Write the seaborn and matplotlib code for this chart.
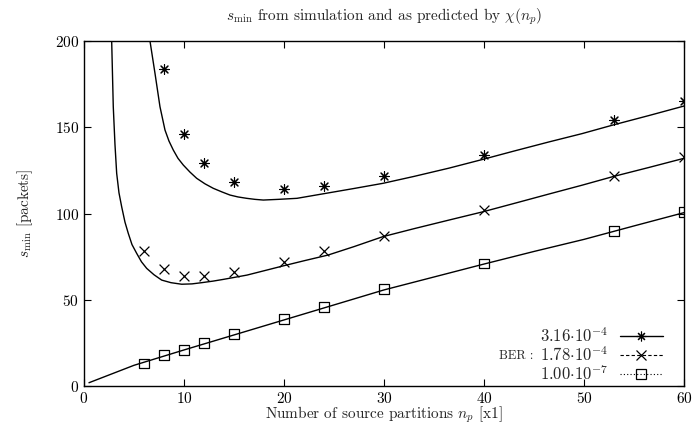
import matplotlib
matplotlib.use("Agg")
import matplotlib.pyplot as plt
from matplotlib.lines import Line2D
import seaborn as sns

# simulated s_min points
x_hi = [8, 10, 12, 15, 20, 24, 30, 40, 53, 60]
y_hi = [184, 146, 129, 118, 114, 116, 122, 134, 154, 165]
x_mid = [6, 8, 10, 12, 15, 20, 24, 30, 40, 53, 60]
y_mid = [78, 68, 64, 64, 66, 72, 78, 87, 102, 122, 133]
x_lo = [6, 8, 10, 12, 15, 20, 24, 30, 40, 53, 60]
y_lo = [13, 18, 21, 25, 30, 39, 46, 56, 71, 90, 101]

# predicted curves chi(n_p)
cx_hi = [6.6, 7.1, 7.6, 8.1, 8.5, 8.93, 9.4, 9.93, 10.6, 11.27, 12.1, 12.93, 13.8, 14.6,
         15.4, 16.27, 17.1, 17.93, 19.43, 21.3, 24.4, 27.0, 29.9, 33.0, 36.5, 39.9,
         43.0, 46.5, 49.8, 52.9, 56.5, 60.0]
cy_hi = [200, 181.3, 161.9, 148.4, 142.0, 136.8, 132.0, 128.1, 124.0, 120.4, 117.2, 114.6,
         112.5, 110.7, 109.6, 108.8, 108.2, 107.8, 108.2, 108.8, 111.9, 114.5, 117.5, 121.5,
         126.3, 131.4, 136.2, 141.5, 146.3, 151.3, 156.8, 162.3]
cx_mid = [2.77, 2.93, 3.1, 3.27, 3.5, 3.77, 4.1, 4.43, 4.8, 5.27, 5.75, 6.27, 7.0, 7.77,
          8.7, 9.77, 10.8, 11.77, 12.9, 13.93, 16.3, 18.0, 19.9, 22.0, 24.4, 27.0, 29.9,
          33.0, 36.5, 39.9, 43.5, 46.5, 49.8, 52.9, 56.5, 60.0]
cy_mid = [200, 161.9, 140, 123.3, 112, 103.9, 95, 88.5, 82, 76.9, 72, 68.2, 64.5, 61.4,
          59.9, 59.0, 59.2, 59.9, 60.8, 61.8, 64.3, 66.8, 69.6, 72.6, 75.9, 80.8, 86.6,
          91.2, 96.2, 101, 106.6, 111.3, 116.4, 121.4, 126.7, 132]
cx_lo = [0.5, 5, 10, 15, 20, 25, 30, 35, 40, 45, 50, 55, 60]
cy_lo = [1.9, 12.0, 20.9, 29.6, 38.3, 47.0, 55.7, 63.2, 70.7, 78.0, 85.0, 92.8, 100.5]

ber_labels = [r"$3.16{\cdot}10^{-4}$", r"$1.78{\cdot}10^{-4}$", r"$1.00{\cdot}10^{-7}$"]

sns.set_style("ticks")
plt.rcParams["font.family"] = ["cmr10", "DejaVu Serif"]
plt.rcParams["mathtext.fontset"] = "cm"
plt.rcParams["axes.formatter.use_mathtext"] = True
plt.rcParams["font.size"] = 11

fig = plt.figure(figsize=(6.94, 4.38), dpi=100)
ax = fig.add_axes([0.121, 0.1187, 0.8646, 0.7877])

star = (8, 2, 0)
for cx, cy in [(cx_hi, cy_hi), (cx_mid, cy_mid), (cx_lo, cy_lo)]:
    sns.lineplot(x=cx, y=cy, ax=ax, color="black", linewidth=1.0, sort=False,
                 estimator=None, legend=False)

sns.scatterplot(x=x_hi, y=y_hi, ax=ax, marker=star, s=50, color="black",
                linewidth=0.8, legend=False)
sns.scatterplot(x=x_mid, y=y_mid, ax=ax, marker="x", s=50, color="black",
                linewidth=0.9, legend=False)
sns.scatterplot(x=x_lo, y=y_lo, ax=ax, marker="s", s=50, facecolors="none",
                edgecolor="black", linewidth=0.9, legend=False)

ax.set_xlim(0, 60)
ax.set_ylim(0, 200)
ax.set_xticks(range(0, 61, 10))
ax.set_yticks(range(0, 201, 50))
ax.tick_params(direction="in", top=True, right=True, length=5, width=0.8,
               labelsize=11, colors="black")
for s in ax.spines.values():
    s.set_linewidth(1.0)
    s.set_color("black")

ax.set_title(r"$s_{\min}$ from simulation and as predicted by $\chi(n_p)$", fontsize=11, pad=15)
ax.set_xlabel(r"Number of source partitions $n_p$ [x1]", fontsize=11, labelpad=-1)
ax.set_ylabel(r"$s_{\min}$ [packets]", fontsize=11, labelpad=14)

handles = [
    Line2D([], [], color="black", linestyle="-", linewidth=1.0, marker=star, markersize=7,
           markeredgewidth=0.8),
    Line2D([], [], color="black", linestyle=(0, (3, 2)), linewidth=0.8, marker="x",
           markersize=7, markeredgewidth=0.9),
    Line2D([], [], color="black", linestyle=(0, (1, 2)), linewidth=0.8, marker="s",
           markersize=7, markerfacecolor="none", markeredgewidth=0.9),
]
leg = ax.legend(handles, ber_labels, loc="lower right", frameon=False, markerfirst=False,
                handlelength=2.6, handletextpad=0.7, labelspacing=0.0, fontsize=12,
                bbox_to_anchor=(0.99, -0.035))
fig.canvas.draw()
bb = leg.get_texts()[1].get_window_extent().transformed(ax.transAxes.inverted())
ax.text(bb.x0 - 0.01, (bb.y0 + bb.y1) / 2 - 0.005, "BER :", transform=ax.transAxes,
        ha="right", va="center", fontsize=9)

fig.savefig("out.png", dpi=100)
